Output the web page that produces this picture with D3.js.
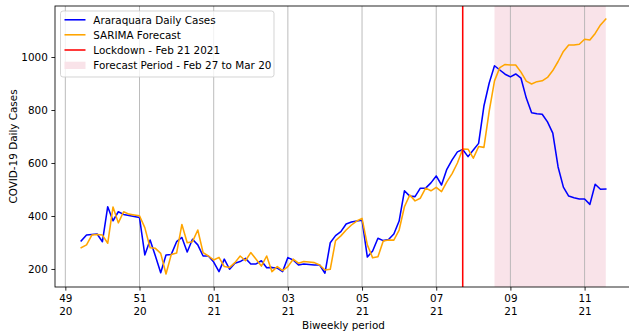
<!DOCTYPE html>
<html>
<head>
<meta charset="utf-8">
<script src="https://cdn.jsdelivr.net/npm/d3@7"></script>
<style>
  html, body { margin: 0; padding: 0; background: #fff; }
  svg { display: block; }
  text { font-family: "DejaVu Sans", sans-serif; fill: #000; }
</style>
</head>
<body>
<svg id="chart" width="629" height="333"></svg>
<script>
// Daily series, Dec 11 2020 through Mar 20 2021
const startDay = "2020-12-11";
const dailyCases = [
  306, 328, 330, 332, 303, 435, 382, 416, 406, 402,
  398, 394, 253, 309, 249, 186, 253, 255, 303, 319,
  264, 312, 291, 249, 249, 226, 190, 237, 199, 222,
  228, 240, 219, 219, 231, 205, 206, 203, 190, 243,
  234, 215, 219, 217, 215, 215, 184, 299, 326, 341,
  370, 377, 381, 384, 245, 268, 316, 307, 311, 332,
  381, 495, 475, 473, 505, 505, 525, 551, 517, 576,
  612, 642, 651, 624, 649, 674, 815, 902, 967, 951,
  935, 925, 936, 920, 845, 790, 786, 784, 755, 713,
  585, 509, 475, 469, 464, 464, 444, 520, 501, 502
];
const sarimaForecast = [
  280, 291, 328, 330, 328, 297, 434, 374, 416, 407,
  404, 401, 356, 280, 278, 259, 181, 255, 260, 368,
  299, 303, 347, 262, 249, 234, 244, 209, 206, 224,
  249, 231, 262, 237, 211, 249, 190, 209, 194, 209,
  237, 222, 228, 226, 224, 215, 196, 199, 307, 325,
  347, 366, 381, 391, 291, 242, 246, 306, 309, 309,
  347, 435, 479, 457, 467, 505, 495, 508, 492, 529,
  560, 600, 653, 652, 618, 662, 659, 796, 910, 960,
  972, 970, 970, 943, 909, 898, 907, 910, 923, 949,
  983, 1021, 1045, 1045, 1048, 1067, 1064, 1089, 1121, 1143
];
const tickDates = ["2020-12-08", "2020-12-22", "2021-01-05", "2021-01-19",
                   "2021-02-02", "2021-02-16", "2021-03-02", "2021-03-16"];
const yTicks = [200, 400, 600, 800, 1000];
const lockdownDate = "2021-02-21";
const forecastStart = "2021-02-27";
const forecastEnd = "2021-03-20";
const legendLabels = ["Araraquara Daily Cases", "SARIMA Forecast",
                      "Lockdown - Feb 21 2021", "Forecast Period - Feb 27 to Mar 20"];

const parse = d3.utcParse("%Y-%m-%d");
const day0 = parse(startDay);
const days = dailyCases.map((_, i) => d3.utcDay.offset(day0, i));

const W = 629, H = 333;
const plot = { left: 55, right: 632, top: 6, bottom: 287 };
const FS = 10.4;

const svg = d3.select("#chart");

// x limits padded by 5% of the data span on each side
const first = days[0], last = days[days.length - 1];
const pad = (last - first) * 0.05;
const x = d3.scaleUtc()
  .domain([new Date(+first - pad), new Date(+last + pad)])
  .range([plot.left, plot.right]);
const y = d3.scaleLinear()
  .domain([132, 1192.5])
  .range([plot.bottom, plot.top]);

svg.append("defs").append("clipPath").attr("id", "clip")
  .append("rect")
  .attr("x", plot.left).attr("y", plot.top)
  .attr("width", plot.right - plot.left).attr("height", plot.bottom - plot.top);

const area = svg.append("g").attr("clip-path", "url(#clip)");

// forecast window
area.append("rect")
  .attr("x", x(parse(forecastStart)))
  .attr("y", plot.top)
  .attr("width", x(parse(forecastEnd)) - x(parse(forecastStart)))
  .attr("height", plot.bottom - plot.top)
  .attr("fill", "#f9e3e9");

// vertical grid at the biweekly ticks
const tickDays = tickDates.map(parse);
area.selectAll("line.grid").data(tickDays).enter().append("line")
  .attr("class", "grid")
  .attr("x1", d => x(d)).attr("x2", d => x(d))
  .attr("y1", plot.top).attr("y2", plot.bottom)
  .attr("stroke", "#b0b0b0").attr("stroke-width", 0.85);

const line = d3.line().x((d, i) => x(days[i])).y(d => y(d));

area.append("path").datum(dailyCases)
  .attr("d", line).attr("fill", "none")
  .attr("stroke", "#0000ff").attr("stroke-width", 1.55)
  .attr("stroke-linejoin", "round").attr("stroke-linecap", "square");

area.append("path").datum(sarimaForecast)
  .attr("d", line).attr("fill", "none")
  .attr("stroke", "#ffa500").attr("stroke-width", 1.55)
  .attr("stroke-linejoin", "round").attr("stroke-linecap", "square");

// lockdown marker
area.append("line")
  .attr("x1", x(parse(lockdownDate))).attr("x2", x(parse(lockdownDate)))
  .attr("y1", plot.top).attr("y2", plot.bottom)
  .attr("stroke", "#ff0000").attr("stroke-width", 1.55);

// axes
const fmtWeek = d3.utcFormat("%W"), fmtYear = d3.utcFormat("%y");
const xAxis = d3.axisBottom(x).tickValues(tickDays).tickSize(3.6).tickPadding(3.6).tickFormat("");
const gx = svg.append("g").attr("transform", `translate(0,${plot.bottom})`).call(xAxis);
gx.select(".domain").remove();
gx.selectAll(".tick line").attr("stroke", "#000").attr("stroke-width", 0.85);
gx.selectAll(".tick").each(function (d) {
  const t = d3.select(this).append("text")
    .attr("text-anchor", "middle")
    .style("font-size", FS + "px");
  t.append("tspan").attr("x", 0).attr("y", 15.3).text(fmtWeek(d));
  t.append("tspan").attr("x", 0).attr("y", 27.8).text(fmtYear(d));
});

const yAxis = d3.axisLeft(y).tickValues(yTicks).tickSize(3.6).tickPadding(3.6)
  .tickFormat(d3.format("d"));
const gy = svg.append("g").attr("transform", `translate(${plot.left},0)`).call(yAxis);
gy.select(".domain").remove();
gy.selectAll(".tick line").attr("stroke", "#000").attr("stroke-width", 0.85);
gy.selectAll(".tick text")
  .style("font-size", FS + "px")
  .style("font-family", "DejaVu Sans, sans-serif")
  .attr("fill", "#000");

// frame
svg.append("rect")
  .attr("x", plot.left).attr("y", plot.top)
  .attr("width", plot.right - plot.left).attr("height", plot.bottom - plot.top)
  .attr("fill", "none").attr("stroke", "#000").attr("stroke-width", 0.85);

// axis titles
svg.append("text")
  .attr("x", (plot.left + plot.right) / 2).attr("y", 329)
  .attr("text-anchor", "middle").style("font-size", FS + "px")
  .text("Biweekly period");
svg.append("text")
  .attr("transform", `translate(17,${(plot.top + plot.bottom) / 2}) rotate(-90)`)
  .attr("text-anchor", "middle").style("font-size", FS + "px")
  .text("COVID-19 Daily Cases");

// legend
const lg = svg.append("g");
lg.append("rect")
  .attr("x", 60.5).attr("y", 11).attr("width", 213.5).attr("height", 66)
  .attr("rx", 2.5)
  .attr("fill", "#fff").attr("fill-opacity", 0.8)
  .attr("stroke", "#cccccc").attr("stroke-width", 0.85);
const rowY = [19.8, 34.8, 50, 65.3];
const swatch = [
  { type: "line", color: "#0000ff" },
  { type: "line", color: "#ffa500" },
  { type: "line", color: "#ff0000" },
  { type: "patch", color: "#f9e3e9" }
];
legendLabels.forEach((label, i) => {
  const cy = rowY[i];
  if (swatch[i].type === "line") {
    lg.append("line").attr("x1", 64.5).attr("x2", 85.5).attr("y1", cy).attr("y2", cy)
      .attr("stroke", swatch[i].color).attr("stroke-width", 1.55);
  } else {
    lg.append("rect").attr("x", 64.5).attr("y", cy - 3.6).attr("width", 21).attr("height", 7.3)
      .attr("fill", swatch[i].color);
  }
  lg.append("text").attr("x", 93.3).attr("y", cy).attr("dy", "0.36em")
    .style("font-size", FS + "px").text(label);
});
</script>
</body>
</html>
